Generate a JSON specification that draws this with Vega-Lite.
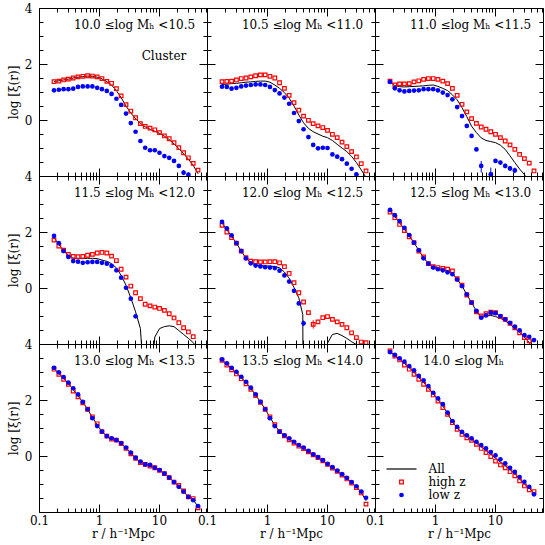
{
"$schema":"https://vega.github.io/schema/vega-lite/v6.json",
"padding":{"left":6,"top":1,"right":4,"bottom":1},
"bounds":"flush",
"spacing":0,
"columns":3,
"resolve":{"legend":{"color":"independent"},"scale":{"color":"independent"}},
"config":{
 "view":{"stroke":"#000000","strokeWidth":1},
 "axis":{"grid":false,"domain":false,"tickColor":"#000000","tickWidth":1,"labelFont":"DejaVu Serif","labelFontSize":12,"labelColor":"#000000","titleFont":"DejaVu Serif","titleFontSize":12,"titleFontWeight":"normal","titleColor":"#000000","labelFlush":false,"labelOverlap":false},
 "text":{"font":"DejaVu Serif","fontSize":12}
},
"datasets":{"d":[
{"p":1,"r":0.178,"a":1.37,"h":1.37,"l":1.06},
{"p":1,"r":0.214,"a":1.40,"h":1.39,"l":1.08},
{"p":1,"r":0.257,"a":1.43,"h":1.43,"l":1.10},
{"p":1,"r":0.309,"a":1.46,"h":1.46,"l":1.10},
{"p":1,"r":0.372,"a":1.50,"h":1.50,"l":1.12},
{"p":1,"r":0.447,"a":1.53,"h":1.54,"l":1.18},
{"p":1,"r":0.537,"a":1.55,"h":1.56,"l":1.20},
{"p":1,"r":0.646,"a":1.57,"h":1.58,"l":1.20},
{"p":1,"r":0.776,"a":1.56,"h":1.57,"l":1.20},
{"p":1,"r":0.933,"a":1.53,"h":1.54,"l":1.15},
{"p":1,"r":1.12,"a":1.47,"h":1.48,"l":1.10},
{"p":1,"r":1.35,"a":1.37,"h":1.38,"l":1.04},
{"p":1,"r":1.62,"a":1.25,"h":1.31,"l":0.93},
{"p":1,"r":1.95,"a":1.05,"h":1.12,"l":0.76},
{"p":1,"r":2.34,"a":0.80,"h":0.86,"l":0.54},
{"p":1,"r":2.82,"a":0.50,"h":0.55,"l":0.23},
{"p":1,"r":3.39,"a":0.25,"h":0.32,"l":-0.11},
{"p":1,"r":4.07,"a":0.05,"h":0.08,"l":-0.42},
{"p":1,"r":4.9,"a":-0.12,"h":-0.13,"l":-0.75},
{"p":1,"r":5.89,"a":-0.24,"h":-0.23,"l":-0.99},
{"p":1,"r":7.08,"a":-0.33,"h":-0.29,"l":-1.08},
{"p":1,"r":8.51,"a":-0.40,"h":-0.35,"l":-1.08},
{"p":1,"r":10.2,"a":-0.48,"h":-0.45,"l":-1.17},
{"p":1,"r":12.3,"a":-0.58,"h":-0.57,"l":-1.29},
{"p":1,"r":14.8,"a":-0.70,"h":-0.67,"l":-1.35},
{"p":1,"r":17.8,"a":-0.85,"h":-0.81,"l":-1.46},
{"p":1,"r":21.4,"a":-1.02,"h":-0.99,"l":-1.64},
{"p":1,"r":25.7,"a":-1.20,"h":-1.17,"l":-1.88,"ll":-1.97,"lh":-1.79},
{"p":1,"r":30.9,"a":-1.40,"h":-1.35,"l":-1.95},
{"p":1,"r":37.2,"a":-1.62,"h":-1.55},
{"p":1,"r":44.7,"a":-1.92,"h":-1.79},
{"p":2,"r":0.178,"a":1.27,"h":1.37,"l":1.19},
{"p":2,"r":0.214,"a":1.28,"h":1.38,"l":1.18},
{"p":2,"r":0.257,"a":1.30,"h":1.39,"l":1.12},
{"p":2,"r":0.309,"a":1.31,"h":1.43,"l":1.15},
{"p":2,"r":0.372,"a":1.33,"h":1.48,"l":1.20},
{"p":2,"r":0.447,"a":1.35,"h":1.50,"l":1.23},
{"p":2,"r":0.537,"a":1.36,"h":1.54,"l":1.25},
{"p":2,"r":0.646,"a":1.38,"h":1.58,"l":1.27},
{"p":2,"r":0.776,"a":1.39,"h":1.61,"l":1.27},
{"p":2,"r":0.933,"a":1.39,"h":1.61,"l":1.25},
{"p":2,"r":1.12,"a":1.35,"h":1.56,"l":1.18},
{"p":2,"r":1.35,"a":1.25,"h":1.50,"l":1.07},
{"p":2,"r":1.62,"a":1.13,"h":1.33,"l":0.95},
{"p":2,"r":1.95,"a":0.98,"h":1.13,"l":0.80},
{"p":2,"r":2.34,"a":0.78,"h":0.88,"l":0.58},
{"p":2,"r":2.82,"a":0.50,"h":0.62,"l":0.25},
{"p":2,"r":3.39,"a":0.18,"h":0.35,"l":-0.04},
{"p":2,"r":4.07,"a":-0.10,"h":0.14,"l":-0.33},
{"p":2,"r":4.9,"a":-0.30,"h":-0.01,"l":-0.61},
{"p":2,"r":5.89,"a":-0.42,"h":-0.13,"l":-0.89},
{"p":2,"r":7.08,"a":-0.50,"h":-0.21,"l":-1.01},
{"p":2,"r":8.51,"a":-0.58,"h":-0.27,"l":-0.99},
{"p":2,"r":10.2,"a":-0.63,"h":-0.37,"l":-1.00},
{"p":2,"r":12.3,"a":-0.73,"h":-0.51,"l":-1.23},
{"p":2,"r":14.8,"a":-0.87,"h":-0.63,"l":-1.31},
{"p":2,"r":17.8,"a":-1.00,"h":-0.79,"l":-1.40},
{"p":2,"r":21.4,"a":-1.13,"h":-0.95,"l":-1.56},
{"p":2,"r":25.7,"a":-1.30,"h":-1.13,"l":-1.74},
{"p":2,"r":30.9,"a":-1.52,"h":-1.32,"l":-1.94},
{"p":2,"r":37.2,"a":-1.78,"h":-1.56},
{"p":2,"r":44.7,"a":-2.05,"h":-1.82},
{"p":3,"r":0.178,"a":1.36,"h":1.39,"l":1.36},
{"p":3,"r":0.214,"a":1.23,"h":1.25,"l":1.13},
{"p":3,"r":0.257,"a":1.19,"h":1.29,"l":1.06},
{"p":3,"r":0.309,"a":1.18,"h":1.29,"l":1.02},
{"p":3,"r":0.372,"a":1.19,"h":1.30,"l":1.04},
{"p":3,"r":0.447,"a":1.20,"h":1.36,"l":1.05},
{"p":3,"r":0.537,"a":1.21,"h":1.40,"l":1.06},
{"p":3,"r":0.646,"a":1.22,"h":1.45,"l":1.10},
{"p":3,"r":0.776,"a":1.24,"h":1.48,"l":1.10},
{"p":3,"r":0.933,"a":1.25,"h":1.48,"l":1.10},
{"p":3,"r":1.12,"a":1.20,"h":1.45,"l":1.06},
{"p":3,"r":1.35,"a":1.13,"h":1.39,"l":0.98},
{"p":3,"r":1.62,"a":1.05,"h":1.30,"l":0.89},
{"p":3,"r":1.95,"a":0.90,"h":1.13,"l":0.74},
{"p":3,"r":2.34,"a":0.72,"h":0.88,"l":0.46},
{"p":3,"r":2.82,"a":0.44,"h":0.56,"l":0.14},
{"p":3,"r":3.39,"a":0.12,"h":0.29,"l":-0.21},
{"p":3,"r":4.07,"a":-0.22,"h":0.05,"l":-0.57},
{"p":3,"r":4.9,"a":-0.45,"h":-0.12,"l":-1.05},
{"p":3,"r":5.89,"a":-0.64,"h":-0.25,"l":-1.64,"ll":-1.88,"lh":-1.46},
{"p":3,"r":7.08,"a":-0.73,"h":-0.33},
{"p":3,"r":8.51,"a":-0.77,"h":-0.42,"l":-1.94,"ll":-2.1,"lh":-1.70},
{"p":3,"r":10.2,"a":-0.81,"h":-0.51,"l":-1.46,"ll":-1.53,"lh":-1.39},
{"p":3,"r":12.3,"a":-0.90,"h":-0.63,"l":-1.52,"ll":-1.59,"lh":-1.45},
{"p":3,"r":14.8,"a":-1.05,"h":-0.75,"l":-1.64,"ll":-1.72,"lh":-1.56},
{"p":3,"r":17.8,"a":-1.28,"h":-0.89,"l":-1.73,"ll":-1.82,"lh":-1.64},
{"p":3,"r":21.4,"a":-1.52,"h":-1.05,"l":-1.80,"ll":-1.90,"lh":-1.70},
{"p":3,"r":25.7,"a":-1.75,"h":-1.23},
{"p":3,"r":30.9,"a":-1.95,"h":-1.38},
{"p":3,"r":37.2,"a":-2.2,"h":-1.54},
{"p":3,"r":44.7,"a":-2.4,"h":-1.82},
{"p":4,"r":0.178,"a":1.80,"h":1.71,"l":1.86},
{"p":4,"r":0.214,"a":1.55,"h":1.50,"l":1.60},
{"p":4,"r":0.257,"a":1.33,"h":1.35,"l":1.32},
{"p":4,"r":0.309,"a":1.15,"h":1.20,"l":1.11},
{"p":4,"r":0.372,"a":1.06,"h":1.13,"l":0.96},
{"p":4,"r":0.447,"a":1.05,"h":1.12,"l":0.94},
{"p":4,"r":0.537,"a":1.05,"h":1.13,"l":0.90},
{"p":4,"r":0.646,"a":1.06,"h":1.17,"l":0.92},
{"p":4,"r":0.776,"a":1.06,"h":1.20,"l":0.93},
{"p":4,"r":0.933,"a":1.05,"h":1.25,"l":0.93},
{"p":4,"r":1.12,"a":1.00,"h":1.27,"l":0.90},
{"p":4,"r":1.35,"a":0.95,"h":1.25,"l":0.87},
{"p":4,"r":1.62,"a":0.87,"h":1.14,"l":0.79},
{"p":4,"r":1.95,"a":0.72,"h":0.98,"l":0.63},
{"p":4,"r":2.34,"a":0.45,"h":0.67,"l":0.37},
{"p":4,"r":2.82,"a":0.10,"h":0.39,"l":0.01},
{"p":4,"r":3.39,"a":-0.35,"h":0.07,"l":-0.38},
{"p":4,"r":4.07,"a":-0.85,"h":-0.17,"l":-1.01},
{"p":4,"r":4.9,"a":-1.45,"h":-0.38},
{"p":4,"r":5.89,"a":-4,"h":-0.58},
{"p":4,"r":7.08,"a":-4,"h":-0.64},
{"p":4,"r":8.51,"a":-1.75,"h":-0.68},
{"p":4,"r":10.2,"a":-1.45,"h":-0.73},
{"p":4,"r":12.3,"a":-1.38,"h":-0.80},
{"p":4,"r":14.8,"a":-1.35,"h":-0.92},
{"p":4,"r":17.8,"a":-1.38,"h":-1.07},
{"p":4,"r":21.4,"a":-1.52,"h":-1.24},
{"p":4,"r":25.7,"a":-1.66,"h":-1.42},
{"p":4,"r":30.9,"a":-1.80,"h":-1.57},
{"p":4,"r":37.2,"a":-1.95,"h":-1.74},
{"p":4,"r":44.7,"a":-2.2},
{"p":5,"r":0.178,"a":2.32,"h":2.24,"l":2.36},
{"p":5,"r":0.214,"a":2.08,"h":2.00,"l":2.13},
{"p":5,"r":0.257,"a":1.85,"h":1.80,"l":1.88},
{"p":5,"r":0.309,"a":1.60,"h":1.60,"l":1.60},
{"p":5,"r":0.372,"a":1.32,"h":1.32,"l":1.32},
{"p":5,"r":0.447,"a":1.07,"h":1.08,"l":1.06},
{"p":5,"r":0.537,"a":0.90,"h":0.96,"l":0.88},
{"p":5,"r":0.646,"a":0.82,"h":0.94,"l":0.80},
{"p":5,"r":0.776,"a":0.80,"h":0.93,"l":0.77},
{"p":5,"r":0.933,"a":0.79,"h":0.93,"l":0.74},
{"p":5,"r":1.12,"a":0.78,"h":0.94,"l":0.73},
{"p":5,"r":1.35,"a":0.77,"h":0.94,"l":0.71},
{"p":5,"r":1.62,"a":0.72,"h":0.90,"l":0.62},
{"p":5,"r":1.95,"a":0.57,"h":0.76,"l":0.45},
{"p":5,"r":2.34,"a":0.35,"h":0.52,"l":0.23},
{"p":5,"r":2.82,"a":0.02,"h":0.19,"l":-0.10},
{"p":5,"r":3.39,"a":-0.35,"h":-0.17,"l":-0.55},
{"p":5,"r":3.95,"a":-0.95},
{"p":5,"r":4.07,"a":-8,"h":-0.50,"l":-1.26,"ll":-1.36,"lh":-1.16},
{"p":5,"r":4.9,"a":-8,"h":-0.88},
{"p":5,"r":5.89,"a":-8,"h":-1.30,"hl":-1.45,"hh":-1.15},
{"p":5,"r":7.08,"a":-8,"h":-1.21},
{"p":5,"r":8.51,"a":-8,"h":-1.06},
{"p":5,"r":10.2,"a":-1.97,"h":-1.02},
{"p":5,"r":12.3,"a":-1.66,"h":-1.12},
{"p":5,"r":14.8,"a":-1.62,"h":-1.21},
{"p":5,"r":17.8,"a":-1.70,"h":-1.30},
{"p":5,"r":21.4,"a":-1.80,"h":-1.42},
{"p":5,"r":25.7,"a":-1.92,"h":-1.60},
{"p":5,"r":30.9,"a":-2.02,"h":-1.77},
{"p":5,"r":37.2,"a":-2.15,"h":-1.93},
{"p":5,"r":44.7,"a":-2.3,"h":-1.95},
{"p":6,"r":0.178,"a":2.75,"h":2.71,"l":2.79},
{"p":6,"r":0.214,"a":2.55,"h":2.51,"l":2.60},
{"p":6,"r":0.257,"a":2.33,"h":2.27,"l":2.39},
{"p":6,"r":0.309,"a":2.10,"h":2.05,"l":2.15},
{"p":6,"r":0.372,"a":1.86,"h":1.83,"l":1.89},
{"p":6,"r":0.447,"a":1.62,"h":1.62,"l":1.62},
{"p":6,"r":0.537,"a":1.34,"h":1.32,"l":1.35},
{"p":6,"r":0.646,"a":1.08,"h":1.11,"l":1.06},
{"p":6,"r":0.776,"a":0.87,"h":0.87,"l":0.87},
{"p":6,"r":0.933,"a":0.75,"h":0.76,"l":0.73},
{"p":6,"r":1.12,"a":0.70,"h":0.73,"l":0.67},
{"p":6,"r":1.35,"a":0.66,"h":0.70,"l":0.63},
{"p":6,"r":1.62,"a":0.60,"h":0.67,"l":0.56},
{"p":6,"r":1.95,"a":0.52,"h":0.61,"l":0.49},
{"p":6,"r":2.34,"a":0.31,"h":0.33,"l":0.30},
{"p":6,"r":2.82,"a":0.08,"h":0.10,"l":0.07},
{"p":6,"r":3.39,"a":-0.24,"h":-0.25,"l":-0.23},
{"p":6,"r":4.07,"a":-0.52,"h":-0.52,"l":-0.52},
{"p":6,"r":4.9,"a":-0.83,"h":-0.85,"l":-0.82},
{"p":6,"r":5.89,"a":-1.05,"h":-1.00,"l":-1.06},
{"p":6,"r":7.08,"a":-1.00,"h":-0.92,"l":-0.98},
{"p":6,"r":8.51,"a":-0.98,"h":-0.86,"l":-0.88},
{"p":6,"r":10.2,"a":-1.02,"h":-0.88,"l":-0.90},
{"p":6,"r":12.3,"a":-1.08,"h":-1.02,"l":-1.00},
{"p":6,"r":14.8,"a":-1.17,"h":-1.12,"l":-1.12},
{"p":6,"r":17.8,"a":-1.30,"h":-1.26,"l":-1.24},
{"p":6,"r":21.4,"a":-1.44,"h":-1.42,"l":-1.38},
{"p":6,"r":25.7,"a":-1.58,"h":-1.60,"l":-1.51},
{"p":6,"r":30.9,"a":-1.75,"h":-1.77,"l":-1.68},
{"p":6,"r":37.2,"a":-1.95,"h":-1.89,"l":-1.74},
{"p":6,"r":44.7,"a":-2.2,"l":-1.86},
{"p":7,"r":0.178,"a":3.12,"h":3.10,"l":3.15},
{"p":7,"r":0.214,"a":2.95,"h":2.92,"l":2.99},
{"p":7,"r":0.257,"a":2.78,"h":2.74,"l":2.82},
{"p":7,"r":0.309,"a":2.59,"h":2.56,"l":2.62},
{"p":7,"r":0.372,"a":2.37,"h":2.32,"l":2.42},
{"p":7,"r":0.447,"a":2.15,"h":2.11,"l":2.20},
{"p":7,"r":0.537,"a":1.92,"h":1.90,"l":1.93},
{"p":7,"r":0.646,"a":1.67,"h":1.67,"l":1.67},
{"p":7,"r":0.776,"a":1.38,"h":1.40,"l":1.35},
{"p":7,"r":0.933,"a":1.11,"h":1.15,"l":1.07},
{"p":7,"r":1.12,"a":0.87,"h":0.87,"l":0.87},
{"p":7,"r":1.35,"a":0.71,"h":0.71,"l":0.71},
{"p":7,"r":1.62,"a":0.62,"h":0.60,"l":0.63},
{"p":7,"r":1.95,"a":0.57,"h":0.57,"l":0.57},
{"p":7,"r":2.34,"a":0.45,"h":0.44,"l":0.46},
{"p":7,"r":2.82,"a":0.29,"h":0.27,"l":0.30},
{"p":7,"r":3.39,"a":0.10,"h":0.08,"l":0.12},
{"p":7,"r":4.07,"a":-0.07,"h":-0.08,"l":-0.06},
{"p":7,"r":4.9,"a":-0.22,"h":-0.24,"l":-0.20},
{"p":7,"r":5.89,"a":-0.30,"h":-0.30,"l":-0.30},
{"p":7,"r":7.08,"a":-0.34,"h":-0.36,"l":-0.32},
{"p":7,"r":8.51,"a":-0.42,"h":-0.42,"l":-0.42},
{"p":7,"r":10.2,"a":-0.50,"h":-0.51,"l":-0.50},
{"p":7,"r":12.3,"a":-0.63,"h":-0.63,"l":-0.63},
{"p":7,"r":14.8,"a":-0.77,"h":-0.77,"l":-0.77},
{"p":7,"r":17.8,"a":-0.93,"h":-0.93,"l":-0.93},
{"p":7,"r":21.4,"a":-1.08,"h":-1.05,"l":-1.10},
{"p":7,"r":25.7,"a":-1.26,"h":-1.25,"l":-1.27},
{"p":7,"r":30.9,"a":-1.47,"h":-1.46,"l":-1.46},
{"p":7,"r":37.2,"a":-1.55,"h":-1.52,"l":-1.58},
{"p":7,"r":44.7,"a":-1.82,"h":-1.85,"l":-1.79},
{"p":8,"r":0.178,"a":3.44,"h":3.42,"l":3.45},
{"p":8,"r":0.214,"a":3.28,"h":3.25,"l":3.31},
{"p":8,"r":0.257,"a":3.12,"h":3.08,"l":3.15},
{"p":8,"r":0.309,"a":2.97,"h":2.93,"l":3.01},
{"p":8,"r":0.372,"a":2.80,"h":2.76,"l":2.83},
{"p":8,"r":0.447,"a":2.62,"h":2.58,"l":2.65},
{"p":8,"r":0.537,"a":2.41,"h":2.38,"l":2.44},
{"p":8,"r":0.646,"a":2.18,"h":2.16,"l":2.20},
{"p":8,"r":0.776,"a":1.93,"h":1.92,"l":1.93},
{"p":8,"r":0.933,"a":1.67,"h":1.67,"l":1.67},
{"p":8,"r":1.12,"a":1.38,"h":1.40,"l":1.35},
{"p":8,"r":1.35,"a":1.10,"h":1.12,"l":1.07},
{"p":8,"r":1.62,"a":0.87,"h":0.87,"l":0.87},
{"p":8,"r":1.95,"a":0.73,"h":0.72,"l":0.74},
{"p":8,"r":2.34,"a":0.61,"h":0.58,"l":0.63},
{"p":8,"r":2.82,"a":0.49,"h":0.46,"l":0.51},
{"p":8,"r":3.39,"a":0.37,"h":0.35,"l":0.39},
{"p":8,"r":4.07,"a":0.28,"h":0.26,"l":0.30},
{"p":8,"r":4.9,"a":0.17,"h":0.15,"l":0.18},
{"p":8,"r":5.89,"a":0.05,"h":0.04,"l":0.06},
{"p":8,"r":7.08,"a":-0.05,"h":-0.06,"l":-0.04},
{"p":8,"r":8.51,"a":-0.16,"h":-0.17,"l":-0.15},
{"p":8,"r":10.2,"a":-0.29,"h":-0.30,"l":-0.28},
{"p":8,"r":12.3,"a":-0.42,"h":-0.43,"l":-0.40},
{"p":8,"r":14.8,"a":-0.54,"h":-0.55,"l":-0.52},
{"p":8,"r":17.8,"a":-0.67,"h":-0.68,"l":-0.65},
{"p":8,"r":21.4,"a":-0.80,"h":-0.82,"l":-0.78},
{"p":8,"r":25.7,"a":-0.95,"h":-0.97,"l":-0.93},
{"p":8,"r":30.9,"a":-1.10,"h":-1.13,"l":-1.08},
{"p":8,"r":37.2,"a":-1.30,"h":-1.32,"l":-1.27},
{"p":8,"r":44.7,"a":-1.60,"h":-1.72,"l":-1.49},
{"p":9,"r":0.178,"a":3.73,"h":3.75,"l":3.71},
{"p":9,"r":0.214,"a":3.59,"h":3.57,"l":3.61},
{"p":9,"r":0.257,"a":3.46,"h":3.43,"l":3.49},
{"p":9,"r":0.309,"a":3.31,"h":3.25,"l":3.37},
{"p":9,"r":0.372,"a":3.15,"h":3.10,"l":3.21},
{"p":9,"r":0.447,"a":2.99,"h":2.92,"l":3.06},
{"p":9,"r":0.537,"a":2.80,"h":2.74,"l":2.86},
{"p":9,"r":0.646,"a":2.63,"h":2.56,"l":2.70},
{"p":9,"r":0.776,"a":2.44,"h":2.38,"l":2.50},
{"p":9,"r":0.933,"a":2.22,"h":2.18,"l":2.26},
{"p":9,"r":1.12,"a":2.01,"h":1.96,"l":2.06},
{"p":9,"r":1.35,"a":1.79,"h":1.73,"l":1.85},
{"p":9,"r":1.62,"a":1.52,"h":1.49,"l":1.55},
{"p":9,"r":1.95,"a":1.22,"h":1.19,"l":1.25},
{"p":9,"r":2.34,"a":1.00,"h":0.95,"l":1.04},
{"p":9,"r":2.82,"a":0.82,"h":0.77,"l":0.86},
{"p":9,"r":3.39,"a":0.70,"h":0.65,"l":0.74},
{"p":9,"r":4.07,"a":0.60,"h":0.56,"l":0.63},
{"p":9,"r":4.9,"a":0.47,"h":0.42,"l":0.51},
{"p":9,"r":5.89,"a":0.33,"h":0.27,"l":0.39},
{"p":9,"r":7.08,"a":0.20,"h":0.12,"l":0.27},
{"p":9,"r":8.51,"a":0.06,"h":-0.02,"l":0.14},
{"p":9,"r":10.2,"a":-0.08,"h":-0.18,"l":0.02},
{"p":9,"r":12.3,"a":-0.22,"h":-0.32,"l":-0.12},
{"p":9,"r":14.8,"a":-0.34,"h":-0.42,"l":-0.26},
{"p":9,"r":17.8,"a":-0.49,"h":-0.56,"l":-0.42},
{"p":9,"r":21.4,"a":-0.64,"h":-0.71,"l":-0.57},
{"p":9,"r":25.7,"a":-0.82,"h":-0.89,"l":-0.75},
{"p":9,"r":30.9,"a":-1.00,"h":-1.07,"l":-0.92},
{"p":9,"r":37.2,"a":-1.15,"h":-1.21,"l":-1.10},
{"p":9,"r":44.7,"a":-1.32,"h":-1.27,"l":-1.37}
]},
"data":{"name":"d"},
"concat":[
{"width":168,"height":168,"resolve":{"axis":{"x":"independent","y":"independent"}},"layer":[
 {"transform":[{"filter":"datum.p==1&&isValid(datum.a)"}],"mark":{"type":"line","color":"#000000","strokeWidth":1,"clip":true},"encoding":{
  "x":{"field":"r","type":"quantitative","scale":{"type":"log","domain":[0.1,63.1],"nice":false},"axis":{"orient":"bottom","values":[0.2,0.3,0.4,0.5,0.6,0.7,0.8,0.9,2,3,4,5,6,7,8,9,20,30,40,50,60],"labels":false,"title":null,"tickSize":-4}},
  "y":{"field":"a","type":"quantitative","scale":{"domain":[-2,4],"nice":false,"zero":false},"axis":{"orient":"left","values":[-1.5,-1,-0.5,0.5,1,1.5,2.5,3,3.5],"labels":false,"title":null,"tickSize":-4}}}},
 {"transform":[{"filter":"datum.p==1&&isValid(datum.h)"}],"mark":{"type":"point","shape":"square","filled":false,"color":"#ff0000","size":13,"strokeWidth":1.2,"opacity":1,"clip":true},"encoding":{
  "x":{"field":"r","type":"quantitative","scale":{"type":"log","domain":[0.1,63.1],"nice":false},"axis":{"orient":"top","values":[0.2,0.3,0.4,0.5,0.6,0.7,0.8,0.9,2,3,4,5,6,7,8,9,20,30,40,50,60],"labels":false,"title":null,"tickSize":-4}},
  "y":{"field":"h","type":"quantitative","scale":{"domain":[-2,4],"nice":false,"zero":false},"axis":{"orient":"right","values":[-1.5,-1,-0.5,0.5,1,1.5,2.5,3,3.5],"labels":false,"title":null,"tickSize":-4}}}},
 {"transform":[{"filter":"datum.p==1&&isValid(datum.ll)"}],"mark":{"type":"rule","color":"#0000ff","strokeWidth":1,"clip":true},"encoding":{
  "x":{"field":"r","type":"quantitative","scale":{"type":"log","domain":[0.1,63.1],"nice":false},"axis":null},
  "y":{"field":"ll","type":"quantitative","scale":{"domain":[-2,4],"nice":false,"zero":false},"axis":null},"y2":{"field":"lh"}}},
 {"transform":[{"filter":"datum.p==1&&isValid(datum.l)"}],"mark":{"type":"circle","color":"#0000ff","size":22,"opacity":1,"clip":true},"encoding":{
  "x":{"field":"r","type":"quantitative","scale":{"type":"log","domain":[0.1,63.1],"nice":false},"axis":{"orient":"bottom","values":[0.1,1,10],"labels":false,"title":null,"tickSize":-8}},
  "y":{"field":"l","type":"quantitative","scale":{"domain":[-2,4],"nice":false,"zero":false},"axis":{"orient":"left","values":[-2,0,2,4],"format":"~g","labelExpr":"datum.value==-2?'':datum.label","labelPadding":15,"title":"log [ξ(r)]","titlePadding":4,"tickSize":-8}}}},
 {"data":{"values":[{}]},"mark":{"type":"text","align":"right","baseline":"middle","color":"#000000"},"encoding":{
  "x":{"datum":40,"type":"quantitative","scale":{"type":"log","domain":[0.1,63.1],"nice":false},"axis":{"orient":"top","values":[0.1,1,10],"labels":false,"title":null,"tickSize":-8}},
  "y":{"datum":3.38,"type":"quantitative","scale":{"domain":[-2,4],"nice":false,"zero":false},"axis":{"orient":"right","values":[-2,0,2,4],"labels":false,"title":null,"tickSize":-8}},"text":{"value":"10.0 ≤log Mₕ <10.5"}}},
 {"data":{"values":[{}]},"mark":{"type":"text","align":"center","baseline":"middle","color":"#000000"},"encoding":{
  "x":{"datum":12.1,"type":"quantitative","scale":{"type":"log","domain":[0.1,63.1],"nice":false},"axis":null},
  "y":{"datum":2.28,"type":"quantitative","scale":{"domain":[-2,4],"nice":false,"zero":false},"axis":null},"text":{"value":"Cluster"}}}
]},
{"width":168,"height":168,"resolve":{"axis":{"x":"independent","y":"independent"}},"layer":[
 {"transform":[{"filter":"datum.p==2&&isValid(datum.a)"}],"mark":{"type":"line","color":"#000000","strokeWidth":1,"clip":true},"encoding":{
  "x":{"field":"r","type":"quantitative","scale":{"type":"log","domain":[0.1,63.1],"nice":false},"axis":{"orient":"bottom","values":[0.2,0.3,0.4,0.5,0.6,0.7,0.8,0.9,2,3,4,5,6,7,8,9,20,30,40,50,60],"labels":false,"title":null,"tickSize":-4}},
  "y":{"field":"a","type":"quantitative","scale":{"domain":[-2,4],"nice":false,"zero":false},"axis":{"orient":"left","values":[-1.5,-1,-0.5,0.5,1,1.5,2.5,3,3.5],"labels":false,"title":null,"tickSize":-4}}}},
 {"transform":[{"filter":"datum.p==2&&isValid(datum.h)"}],"mark":{"type":"point","shape":"square","filled":false,"color":"#ff0000","size":13,"strokeWidth":1.2,"opacity":1,"clip":true},"encoding":{
  "x":{"field":"r","type":"quantitative","scale":{"type":"log","domain":[0.1,63.1],"nice":false},"axis":{"orient":"top","values":[0.2,0.3,0.4,0.5,0.6,0.7,0.8,0.9,2,3,4,5,6,7,8,9,20,30,40,50,60],"labels":false,"title":null,"tickSize":-4}},
  "y":{"field":"h","type":"quantitative","scale":{"domain":[-2,4],"nice":false,"zero":false},"axis":{"orient":"right","values":[-1.5,-1,-0.5,0.5,1,1.5,2.5,3,3.5],"labels":false,"title":null,"tickSize":-4}}}},
 {"transform":[{"filter":"datum.p==2&&isValid(datum.l)"}],"mark":{"type":"circle","color":"#0000ff","size":22,"opacity":1,"clip":true},"encoding":{
  "x":{"field":"r","type":"quantitative","scale":{"type":"log","domain":[0.1,63.1],"nice":false},"axis":{"orient":"bottom","values":[0.1,1,10],"labels":false,"title":null,"tickSize":-8}},
  "y":{"field":"l","type":"quantitative","scale":{"domain":[-2,4],"nice":false,"zero":false},"axis":{"orient":"left","values":[-2,0,2,4],"labels":false,"title":null,"tickSize":-8}}}},
 {"data":{"values":[{}]},"mark":{"type":"text","align":"right","baseline":"middle","color":"#000000"},"encoding":{
  "x":{"datum":40,"type":"quantitative","scale":{"type":"log","domain":[0.1,63.1],"nice":false},"axis":{"orient":"top","values":[0.1,1,10],"labels":false,"title":null,"tickSize":-8}},
  "y":{"datum":3.38,"type":"quantitative","scale":{"domain":[-2,4],"nice":false,"zero":false},"axis":{"orient":"right","values":[-2,0,2,4],"labels":false,"title":null,"tickSize":-8}},"text":{"value":"10.5 ≤log Mₕ <11.0"}}}
]},
{"width":168,"height":168,"resolve":{"axis":{"x":"independent","y":"independent"}},"layer":[
 {"transform":[{"filter":"datum.p==3&&isValid(datum.a)"}],"mark":{"type":"line","color":"#000000","strokeWidth":1,"clip":true},"encoding":{
  "x":{"field":"r","type":"quantitative","scale":{"type":"log","domain":[0.1,63.1],"nice":false},"axis":{"orient":"bottom","values":[0.2,0.3,0.4,0.5,0.6,0.7,0.8,0.9,2,3,4,5,6,7,8,9,20,30,40,50,60],"labels":false,"title":null,"tickSize":-4}},
  "y":{"field":"a","type":"quantitative","scale":{"domain":[-2,4],"nice":false,"zero":false},"axis":{"orient":"left","values":[-1.5,-1,-0.5,0.5,1,1.5,2.5,3,3.5],"labels":false,"title":null,"tickSize":-4}}}},
 {"transform":[{"filter":"datum.p==3&&isValid(datum.h)"}],"mark":{"type":"point","shape":"square","filled":false,"color":"#ff0000","size":13,"strokeWidth":1.2,"opacity":1,"clip":true},"encoding":{
  "x":{"field":"r","type":"quantitative","scale":{"type":"log","domain":[0.1,63.1],"nice":false},"axis":{"orient":"top","values":[0.2,0.3,0.4,0.5,0.6,0.7,0.8,0.9,2,3,4,5,6,7,8,9,20,30,40,50,60],"labels":false,"title":null,"tickSize":-4}},
  "y":{"field":"h","type":"quantitative","scale":{"domain":[-2,4],"nice":false,"zero":false},"axis":{"orient":"right","values":[-1.5,-1,-0.5,0.5,1,1.5,2.5,3,3.5],"labels":false,"title":null,"tickSize":-4}}}},
 {"transform":[{"filter":"datum.p==3&&isValid(datum.ll)"}],"mark":{"type":"rule","color":"#0000ff","strokeWidth":1,"clip":true},"encoding":{
  "x":{"field":"r","type":"quantitative","scale":{"type":"log","domain":[0.1,63.1],"nice":false},"axis":null},
  "y":{"field":"ll","type":"quantitative","scale":{"domain":[-2,4],"nice":false,"zero":false},"axis":null},"y2":{"field":"lh"}}},
 {"transform":[{"filter":"datum.p==3&&isValid(datum.l)"}],"mark":{"type":"circle","color":"#0000ff","size":22,"opacity":1,"clip":true},"encoding":{
  "x":{"field":"r","type":"quantitative","scale":{"type":"log","domain":[0.1,63.1],"nice":false},"axis":{"orient":"bottom","values":[0.1,1,10],"labels":false,"title":null,"tickSize":-8}},
  "y":{"field":"l","type":"quantitative","scale":{"domain":[-2,4],"nice":false,"zero":false},"axis":{"orient":"left","values":[-2,0,2,4],"labels":false,"title":null,"tickSize":-8}}}},
 {"data":{"values":[{}]},"mark":{"type":"text","align":"right","baseline":"middle","color":"#000000"},"encoding":{
  "x":{"datum":40,"type":"quantitative","scale":{"type":"log","domain":[0.1,63.1],"nice":false},"axis":{"orient":"top","values":[0.1,1,10],"labels":false,"title":null,"tickSize":-8}},
  "y":{"datum":3.38,"type":"quantitative","scale":{"domain":[-2,4],"nice":false,"zero":false},"axis":{"orient":"right","values":[-2,0,2,4],"labels":false,"title":null,"tickSize":-8}},"text":{"value":"11.0 ≤log Mₕ <11.5"}}}
]},
{"width":168,"height":168,"resolve":{"axis":{"x":"independent","y":"independent"}},"layer":[
 {"transform":[{"filter":"datum.p==4&&isValid(datum.a)"}],"mark":{"type":"line","color":"#000000","strokeWidth":1,"clip":true},"encoding":{
  "x":{"field":"r","type":"quantitative","scale":{"type":"log","domain":[0.1,63.1],"nice":false},"axis":{"orient":"bottom","values":[0.2,0.3,0.4,0.5,0.6,0.7,0.8,0.9,2,3,4,5,6,7,8,9,20,30,40,50,60],"labels":false,"title":null,"tickSize":-4}},
  "y":{"field":"a","type":"quantitative","scale":{"domain":[-2,4],"nice":false,"zero":false},"axis":{"orient":"left","values":[-1.5,-1,-0.5,0.5,1,1.5,2.5,3,3.5],"labels":false,"title":null,"tickSize":-4}}}},
 {"transform":[{"filter":"datum.p==4&&isValid(datum.h)"}],"mark":{"type":"point","shape":"square","filled":false,"color":"#ff0000","size":13,"strokeWidth":1.2,"opacity":1,"clip":true},"encoding":{
  "x":{"field":"r","type":"quantitative","scale":{"type":"log","domain":[0.1,63.1],"nice":false},"axis":{"orient":"top","values":[0.2,0.3,0.4,0.5,0.6,0.7,0.8,0.9,2,3,4,5,6,7,8,9,20,30,40,50,60],"labels":false,"title":null,"tickSize":-4}},
  "y":{"field":"h","type":"quantitative","scale":{"domain":[-2,4],"nice":false,"zero":false},"axis":{"orient":"right","values":[-1.5,-1,-0.5,0.5,1,1.5,2.5,3,3.5],"labels":false,"title":null,"tickSize":-4}}}},
 {"transform":[{"filter":"datum.p==4&&isValid(datum.l)"}],"mark":{"type":"circle","color":"#0000ff","size":22,"opacity":1,"clip":true},"encoding":{
  "x":{"field":"r","type":"quantitative","scale":{"type":"log","domain":[0.1,63.1],"nice":false},"axis":{"orient":"bottom","values":[0.1,1,10],"labels":false,"title":null,"tickSize":-8}},
  "y":{"field":"l","type":"quantitative","scale":{"domain":[-2,4],"nice":false,"zero":false},"axis":{"orient":"left","values":[-2,0,2,4],"format":"~g","labelExpr":"datum.value==-2?'':datum.label","labelPadding":15,"title":"log [ξ(r)]","titlePadding":4,"tickSize":-8}}}},
 {"data":{"values":[{}]},"mark":{"type":"text","align":"right","baseline":"middle","color":"#000000"},"encoding":{
  "x":{"datum":40,"type":"quantitative","scale":{"type":"log","domain":[0.1,63.1],"nice":false},"axis":{"orient":"top","values":[0.1,1,10],"labels":false,"title":null,"tickSize":-8}},
  "y":{"datum":3.38,"type":"quantitative","scale":{"domain":[-2,4],"nice":false,"zero":false},"axis":{"orient":"right","values":[-2,0,2,4],"labels":false,"title":null,"tickSize":-8}},"text":{"value":"11.5 ≤log Mₕ <12.0"}}}
]},
{"width":168,"height":168,"resolve":{"axis":{"x":"independent","y":"independent"}},"layer":[
 {"transform":[{"filter":"datum.p==5&&isValid(datum.a)"}],"mark":{"type":"line","color":"#000000","strokeWidth":1,"clip":true},"encoding":{
  "x":{"field":"r","type":"quantitative","scale":{"type":"log","domain":[0.1,63.1],"nice":false},"axis":{"orient":"bottom","values":[0.2,0.3,0.4,0.5,0.6,0.7,0.8,0.9,2,3,4,5,6,7,8,9,20,30,40,50,60],"labels":false,"title":null,"tickSize":-4}},
  "y":{"field":"a","type":"quantitative","scale":{"domain":[-2,4],"nice":false,"zero":false},"axis":{"orient":"left","values":[-1.5,-1,-0.5,0.5,1,1.5,2.5,3,3.5],"labels":false,"title":null,"tickSize":-4}}}},
 {"transform":[{"filter":"datum.p==5&&isValid(datum.hl)"}],"mark":{"type":"rule","color":"#ff0000","strokeWidth":1,"clip":true},"encoding":{
  "x":{"field":"r","type":"quantitative","scale":{"type":"log","domain":[0.1,63.1],"nice":false},"axis":null},
  "y":{"field":"hl","type":"quantitative","scale":{"domain":[-2,4],"nice":false,"zero":false},"axis":null},"y2":{"field":"hh"}}},
 {"transform":[{"filter":"datum.p==5&&isValid(datum.h)"}],"mark":{"type":"point","shape":"square","filled":false,"color":"#ff0000","size":13,"strokeWidth":1.2,"opacity":1,"clip":true},"encoding":{
  "x":{"field":"r","type":"quantitative","scale":{"type":"log","domain":[0.1,63.1],"nice":false},"axis":{"orient":"top","values":[0.2,0.3,0.4,0.5,0.6,0.7,0.8,0.9,2,3,4,5,6,7,8,9,20,30,40,50,60],"labels":false,"title":null,"tickSize":-4}},
  "y":{"field":"h","type":"quantitative","scale":{"domain":[-2,4],"nice":false,"zero":false},"axis":{"orient":"right","values":[-1.5,-1,-0.5,0.5,1,1.5,2.5,3,3.5],"labels":false,"title":null,"tickSize":-4}}}},
 {"transform":[{"filter":"datum.p==5&&isValid(datum.ll)"}],"mark":{"type":"rule","color":"#0000ff","strokeWidth":1,"clip":true},"encoding":{
  "x":{"field":"r","type":"quantitative","scale":{"type":"log","domain":[0.1,63.1],"nice":false},"axis":null},
  "y":{"field":"ll","type":"quantitative","scale":{"domain":[-2,4],"nice":false,"zero":false},"axis":null},"y2":{"field":"lh"}}},
 {"transform":[{"filter":"datum.p==5&&isValid(datum.l)"}],"mark":{"type":"circle","color":"#0000ff","size":22,"opacity":1,"clip":true},"encoding":{
  "x":{"field":"r","type":"quantitative","scale":{"type":"log","domain":[0.1,63.1],"nice":false},"axis":{"orient":"bottom","values":[0.1,1,10],"labels":false,"title":null,"tickSize":-8}},
  "y":{"field":"l","type":"quantitative","scale":{"domain":[-2,4],"nice":false,"zero":false},"axis":{"orient":"left","values":[-2,0,2,4],"labels":false,"title":null,"tickSize":-8}}}},
 {"data":{"values":[{}]},"mark":{"type":"text","align":"right","baseline":"middle","color":"#000000"},"encoding":{
  "x":{"datum":40,"type":"quantitative","scale":{"type":"log","domain":[0.1,63.1],"nice":false},"axis":{"orient":"top","values":[0.1,1,10],"labels":false,"title":null,"tickSize":-8}},
  "y":{"datum":3.38,"type":"quantitative","scale":{"domain":[-2,4],"nice":false,"zero":false},"axis":{"orient":"right","values":[-2,0,2,4],"labels":false,"title":null,"tickSize":-8}},"text":{"value":"12.0 ≤log Mₕ <12.5"}}}
]},
{"width":168,"height":168,"resolve":{"axis":{"x":"independent","y":"independent"}},"layer":[
 {"transform":[{"filter":"datum.p==6&&isValid(datum.a)"}],"mark":{"type":"line","color":"#000000","strokeWidth":1,"clip":true},"encoding":{
  "x":{"field":"r","type":"quantitative","scale":{"type":"log","domain":[0.1,63.1],"nice":false},"axis":{"orient":"bottom","values":[0.2,0.3,0.4,0.5,0.6,0.7,0.8,0.9,2,3,4,5,6,7,8,9,20,30,40,50,60],"labels":false,"title":null,"tickSize":-4}},
  "y":{"field":"a","type":"quantitative","scale":{"domain":[-2,4],"nice":false,"zero":false},"axis":{"orient":"left","values":[-1.5,-1,-0.5,0.5,1,1.5,2.5,3,3.5],"labels":false,"title":null,"tickSize":-4}}}},
 {"transform":[{"filter":"datum.p==6&&isValid(datum.h)"}],"mark":{"type":"point","shape":"square","filled":false,"color":"#ff0000","size":13,"strokeWidth":1.2,"opacity":1,"clip":true},"encoding":{
  "x":{"field":"r","type":"quantitative","scale":{"type":"log","domain":[0.1,63.1],"nice":false},"axis":{"orient":"top","values":[0.2,0.3,0.4,0.5,0.6,0.7,0.8,0.9,2,3,4,5,6,7,8,9,20,30,40,50,60],"labels":false,"title":null,"tickSize":-4}},
  "y":{"field":"h","type":"quantitative","scale":{"domain":[-2,4],"nice":false,"zero":false},"axis":{"orient":"right","values":[-1.5,-1,-0.5,0.5,1,1.5,2.5,3,3.5],"labels":false,"title":null,"tickSize":-4}}}},
 {"transform":[{"filter":"datum.p==6&&isValid(datum.l)"}],"mark":{"type":"circle","color":"#0000ff","size":22,"opacity":1,"clip":true},"encoding":{
  "x":{"field":"r","type":"quantitative","scale":{"type":"log","domain":[0.1,63.1],"nice":false},"axis":{"orient":"bottom","values":[0.1,1,10],"labels":false,"title":null,"tickSize":-8}},
  "y":{"field":"l","type":"quantitative","scale":{"domain":[-2,4],"nice":false,"zero":false},"axis":{"orient":"left","values":[-2,0,2,4],"labels":false,"title":null,"tickSize":-8}}}},
 {"data":{"values":[{}]},"mark":{"type":"text","align":"right","baseline":"middle","color":"#000000"},"encoding":{
  "x":{"datum":40,"type":"quantitative","scale":{"type":"log","domain":[0.1,63.1],"nice":false},"axis":{"orient":"top","values":[0.1,1,10],"labels":false,"title":null,"tickSize":-8}},
  "y":{"datum":3.38,"type":"quantitative","scale":{"domain":[-2,4],"nice":false,"zero":false},"axis":{"orient":"right","values":[-2,0,2,4],"labels":false,"title":null,"tickSize":-8}},"text":{"value":"12.5 ≤log Mₕ <13.0"}}}
]},
{"width":168,"height":168,"resolve":{"axis":{"x":"independent","y":"independent"}},"layer":[
 {"transform":[{"filter":"datum.p==7&&isValid(datum.a)"}],"mark":{"type":"line","color":"#000000","strokeWidth":1,"clip":true},"encoding":{
  "x":{"field":"r","type":"quantitative","scale":{"type":"log","domain":[0.1,63.1],"nice":false},"axis":{"orient":"bottom","values":[0.2,0.3,0.4,0.5,0.6,0.7,0.8,0.9,2,3,4,5,6,7,8,9,20,30,40,50,60],"labels":false,"title":null,"tickSize":-4}},
  "y":{"field":"a","type":"quantitative","scale":{"domain":[-2,4],"nice":false,"zero":false},"axis":{"orient":"left","values":[-1.5,-1,-0.5,0.5,1,1.5,2.5,3,3.5],"labels":false,"title":null,"tickSize":-4}}}},
 {"transform":[{"filter":"datum.p==7&&isValid(datum.h)"}],"mark":{"type":"point","shape":"square","filled":false,"color":"#ff0000","size":13,"strokeWidth":1.2,"opacity":1,"clip":true},"encoding":{
  "x":{"field":"r","type":"quantitative","scale":{"type":"log","domain":[0.1,63.1],"nice":false},"axis":{"orient":"top","values":[0.2,0.3,0.4,0.5,0.6,0.7,0.8,0.9,2,3,4,5,6,7,8,9,20,30,40,50,60],"labels":false,"title":null,"tickSize":-4}},
  "y":{"field":"h","type":"quantitative","scale":{"domain":[-2,4],"nice":false,"zero":false},"axis":{"orient":"right","values":[-1.5,-1,-0.5,0.5,1,1.5,2.5,3,3.5],"labels":false,"title":null,"tickSize":-4}}}},
 {"transform":[{"filter":"datum.p==7&&isValid(datum.l)"}],"mark":{"type":"circle","color":"#0000ff","size":22,"opacity":1,"clip":true},"encoding":{
  "x":{"field":"r","type":"quantitative","scale":{"type":"log","domain":[0.1,63.1],"nice":false},"axis":{"orient":"bottom","values":[0.1,1,10],"format":"~g","labelPadding":11,"title":"r / h⁻¹Mpc","titlePadding":2,"tickSize":-8}},
  "y":{"field":"l","type":"quantitative","scale":{"domain":[-2,4],"nice":false,"zero":false},"axis":{"orient":"left","values":[-2,0,2,4],"format":"~g","labelExpr":"datum.value==-2?'':datum.label","labelPadding":15,"title":"log [ξ(r)]","titlePadding":4,"tickSize":-8}}}},
 {"data":{"values":[{}]},"mark":{"type":"text","align":"right","baseline":"middle","color":"#000000"},"encoding":{
  "x":{"datum":40,"type":"quantitative","scale":{"type":"log","domain":[0.1,63.1],"nice":false},"axis":{"orient":"top","values":[0.1,1,10],"labels":false,"title":null,"tickSize":-8}},
  "y":{"datum":3.38,"type":"quantitative","scale":{"domain":[-2,4],"nice":false,"zero":false},"axis":{"orient":"right","values":[-2,0,2,4],"labels":false,"title":null,"tickSize":-8}},"text":{"value":"13.0 ≤log Mₕ <13.5"}}}
]},
{"width":168,"height":168,"resolve":{"axis":{"x":"independent","y":"independent"}},"layer":[
 {"transform":[{"filter":"datum.p==8&&isValid(datum.a)"}],"mark":{"type":"line","color":"#000000","strokeWidth":1,"clip":true},"encoding":{
  "x":{"field":"r","type":"quantitative","scale":{"type":"log","domain":[0.1,63.1],"nice":false},"axis":{"orient":"bottom","values":[0.2,0.3,0.4,0.5,0.6,0.7,0.8,0.9,2,3,4,5,6,7,8,9,20,30,40,50,60],"labels":false,"title":null,"tickSize":-4}},
  "y":{"field":"a","type":"quantitative","scale":{"domain":[-2,4],"nice":false,"zero":false},"axis":{"orient":"left","values":[-1.5,-1,-0.5,0.5,1,1.5,2.5,3,3.5],"labels":false,"title":null,"tickSize":-4}}}},
 {"transform":[{"filter":"datum.p==8&&isValid(datum.h)"}],"mark":{"type":"point","shape":"square","filled":false,"color":"#ff0000","size":13,"strokeWidth":1.2,"opacity":1,"clip":true},"encoding":{
  "x":{"field":"r","type":"quantitative","scale":{"type":"log","domain":[0.1,63.1],"nice":false},"axis":{"orient":"top","values":[0.2,0.3,0.4,0.5,0.6,0.7,0.8,0.9,2,3,4,5,6,7,8,9,20,30,40,50,60],"labels":false,"title":null,"tickSize":-4}},
  "y":{"field":"h","type":"quantitative","scale":{"domain":[-2,4],"nice":false,"zero":false},"axis":{"orient":"right","values":[-1.5,-1,-0.5,0.5,1,1.5,2.5,3,3.5],"labels":false,"title":null,"tickSize":-4}}}},
 {"transform":[{"filter":"datum.p==8&&isValid(datum.l)"}],"mark":{"type":"circle","color":"#0000ff","size":22,"opacity":1,"clip":true},"encoding":{
  "x":{"field":"r","type":"quantitative","scale":{"type":"log","domain":[0.1,63.1],"nice":false},"axis":{"orient":"bottom","values":[0.1,1,10],"format":"~g","labelPadding":11,"title":"r / h⁻¹Mpc","titlePadding":2,"tickSize":-8}},
  "y":{"field":"l","type":"quantitative","scale":{"domain":[-2,4],"nice":false,"zero":false},"axis":{"orient":"left","values":[-2,0,2,4],"labels":false,"title":null,"tickSize":-8}}}},
 {"data":{"values":[{}]},"mark":{"type":"text","align":"right","baseline":"middle","color":"#000000"},"encoding":{
  "x":{"datum":40,"type":"quantitative","scale":{"type":"log","domain":[0.1,63.1],"nice":false},"axis":{"orient":"top","values":[0.1,1,10],"labels":false,"title":null,"tickSize":-8}},
  "y":{"datum":3.38,"type":"quantitative","scale":{"domain":[-2,4],"nice":false,"zero":false},"axis":{"orient":"right","values":[-2,0,2,4],"labels":false,"title":null,"tickSize":-8}},"text":{"value":"13.5 ≤log Mₕ <14.0"}}}
]},
{"width":168,"height":168,"resolve":{"axis":{"x":"independent","y":"independent"}},"layer":[
 {"transform":[{"filter":"datum.p==9&&isValid(datum.a)"}],"mark":{"type":"line","strokeWidth":1,"clip":true},"encoding":{
  "x":{"field":"r","type":"quantitative","scale":{"type":"log","domain":[0.1,63.1],"nice":false},"axis":{"orient":"bottom","values":[0.2,0.3,0.4,0.5,0.6,0.7,0.8,0.9,2,3,4,5,6,7,8,9,20,30,40,50,60],"labels":false,"title":null,"tickSize":-4}},
  "y":{"field":"a","type":"quantitative","scale":{"domain":[-2,4],"nice":false,"zero":false},"axis":{"orient":"left","values":[-1.5,-1,-0.5,0.5,1,1.5,2.5,3,3.5],"labels":false,"title":null,"tickSize":-4}},
  "color":{"datum":"All","type":"nominal","scale":{"domain":["All","high z","low z"],"range":["#000000","#ff0000","#0000ff"]},"legend":{"title":null,"orient":"bottom-left","offset":11,"padding":0,"rowPadding":1,"labelFont":"DejaVu Serif","labelFontSize":12,"labelColor":"#000000","labelOffset":21,"symbolOffset":9.5,"symbolSize":144,"encode":{"symbols":{"update":{"shape":{"signal":"datum.value==='All'?'M-2.5,0H2.5':datum.value==='high z'?'square':'circle'"},"size":{"signal":"datum.value==='All'?144:datum.value==='high z'?14:22"},"fillOpacity":{"signal":"datum.value==='low z'?1:0"},"fill":{"signal":"datum.value==='low z'?'#0000ff':'transparent'"},"stroke":{"signal":"datum.value==='All'?'#000000':datum.value==='high z'?'#ff0000':'#0000ff'"},"strokeWidth":{"signal":"datum.value==='low z'?0:1.2"},"opacity":{"value":1}}}}}}}},
 {"transform":[{"filter":"datum.p==9&&isValid(datum.h)"}],"mark":{"type":"point","shape":"square","filled":false,"size":13,"strokeWidth":1.2,"opacity":1,"clip":true},"encoding":{
  "x":{"field":"r","type":"quantitative","scale":{"type":"log","domain":[0.1,63.1],"nice":false},"axis":{"orient":"top","values":[0.2,0.3,0.4,0.5,0.6,0.7,0.8,0.9,2,3,4,5,6,7,8,9,20,30,40,50,60],"labels":false,"title":null,"tickSize":-4}},
  "y":{"field":"h","type":"quantitative","scale":{"domain":[-2,4],"nice":false,"zero":false},"axis":{"orient":"right","values":[-1.5,-1,-0.5,0.5,1,1.5,2.5,3,3.5],"labels":false,"title":null,"tickSize":-4}},
  "color":{"datum":"high z","type":"nominal"}}},
 {"transform":[{"filter":"datum.p==9&&isValid(datum.l)"}],"mark":{"type":"circle","size":22,"opacity":1,"clip":true},"encoding":{
  "x":{"field":"r","type":"quantitative","scale":{"type":"log","domain":[0.1,63.1],"nice":false},"axis":{"orient":"bottom","values":[0.1,1,10],"format":"~g","labelPadding":11,"title":"r / h⁻¹Mpc","titlePadding":2,"tickSize":-8}},
  "y":{"field":"l","type":"quantitative","scale":{"domain":[-2,4],"nice":false,"zero":false},"axis":{"orient":"left","values":[-2,0,2,4],"labels":false,"title":null,"tickSize":-8}},
  "color":{"datum":"low z","type":"nominal"}}},
 {"data":{"values":[{}]},"mark":{"type":"text","align":"right","baseline":"middle","color":"#000000"},"encoding":{
  "x":{"datum":14.1,"type":"quantitative","scale":{"type":"log","domain":[0.1,63.1],"nice":false},"axis":{"orient":"top","values":[0.1,1,10],"labels":false,"title":null,"tickSize":-8}},
  "y":{"datum":3.38,"type":"quantitative","scale":{"domain":[-2,4],"nice":false,"zero":false},"axis":{"orient":"right","values":[-2,0,2,4],"labels":false,"title":null,"tickSize":-8}},"text":{"value":"14.0 ≤log Mₕ"}}}
]}
]
}
